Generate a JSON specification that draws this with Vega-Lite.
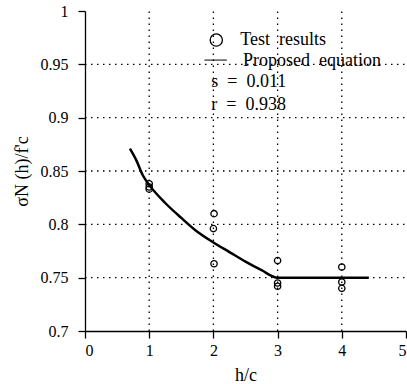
{
  "$schema": "https://vega.github.io/schema/vega-lite/v6.json",
  "width": 321,
  "height": 320,
  "autosize": {"type": "none"},
  "padding": {"left": 85, "top": 11, "right": 1, "bottom": 53},
  "background": "white",
  "config": {
    "view": {"stroke": null},
    "font": "Times New Roman, Liberation Serif, serif",
    "axis": {"grid": false, "domainColor": "black", "domainWidth": 1.3, "tickColor": "black", "tickSize": 7, "tickWidth": 1.3,
             "labelColor": "black", "titleFontWeight": "normal", "titleColor": "black"}
  },
  "data": {"values": [
    {"k": "gv", "x": 1, "y": 0.7, "y2": 1},
    {"k": "gv", "x": 2, "y": 0.7, "y2": 1},
    {"k": "gv", "x": 3, "y": 0.7, "y2": 1},
    {"k": "gv", "x": 4, "y": 0.7, "y2": 1},
    {"k": "gh", "x": 0, "x2": 5, "y": 0.75},
    {"k": "gh", "x": 0, "x2": 5, "y": 0.8},
    {"k": "gh", "x": 0, "x2": 5, "y": 0.85},
    {"k": "gh", "x": 0, "x2": 5, "y": 0.9},
    {"k": "gh", "x": 0, "x2": 5, "y": 0.95},
    {"k": "curve", "x": 0.7, "y": 0.871},
    {"k": "curve", "x": 0.8, "y": 0.86},
    {"k": "curve", "x": 0.9, "y": 0.846},
    {"k": "curve", "x": 1.0, "y": 0.837},
    {"k": "curve", "x": 1.25, "y": 0.82},
    {"k": "curve", "x": 1.5, "y": 0.806},
    {"k": "curve", "x": 1.75, "y": 0.793},
    {"k": "curve", "x": 2.0, "y": 0.783},
    {"k": "curve", "x": 2.25, "y": 0.774},
    {"k": "curve", "x": 2.5, "y": 0.765},
    {"k": "curve", "x": 2.75, "y": 0.757},
    {"k": "curve", "x": 3.0, "y": 0.75},
    {"k": "curve", "x": 4.42, "y": 0.75},
    {"k": "pt", "x": 1, "y": 0.838},
    {"k": "pt", "x": 1, "y": 0.835},
    {"k": "pt", "x": 1, "y": 0.833},
    {"k": "pt", "x": 2.01, "y": 0.81},
    {"k": "pt", "x": 2, "y": 0.796},
    {"k": "pt", "x": 2.01, "y": 0.763},
    {"k": "pt", "x": 3, "y": 0.766},
    {"k": "pt", "x": 3, "y": 0.745},
    {"k": "pt", "x": 3, "y": 0.742},
    {"k": "pt", "x": 4, "y": 0.76},
    {"k": "pt", "x": 4, "y": 0.746},
    {"k": "pt", "x": 4, "y": 0.74},
    {"k": "legsym", "x": 2.045, "y": 0.9728},
    {"k": "legline", "x": 1.86, "y": 0.954},
    {"k": "legline", "x": 2.21, "y": 0.954},
    {"k": "txt", "x": 2.418, "y": 0.9728, "t": "Test\u00a0 results"},
    {"k": "txt", "x": 2.46, "y": 0.9531, "t": "Proposed\u00a0 equation"},
    {"k": "txt", "x": 1.967, "y": 0.9337, "t": "s\u00a0 =\u00a0 0.011"},
    {"k": "txt", "x": 1.967, "y": 0.9119, "t": "r\u00a0 =\u00a0 0.938"}
  ]},
  "encoding": {
    "x": {"field": "x", "type": "quantitative",
          "scale": {"domain": [0, 5], "nice": false, "zero": false},
          "axis": {"values": [0, 1, 2, 3, 4, 5], "title": "h/c", "titlePadding": 8, "labelPadding": 4,
                   "labelFont": "Times New Roman, Liberation Serif, serif", "labelFontSize": 16, "titleFont": "Times New Roman, Liberation Serif, serif", "titleFontSize": 18}},
    "y": {"field": "y", "type": "quantitative",
          "scale": {"domain": [0.7, 1], "nice": false, "zero": false},
          "axis": {"values": [0.7, 0.75, 0.8, 0.85, 0.9, 0.95, 1], "title": "σN (h)/f'c", "titlePadding": 9, "labelPadding": 10,
                   "labelFont": "Times New Roman, Liberation Serif, serif", "labelFontSize": 16, "titleFont": "Times New Roman, Liberation Serif, serif", "titleFontSize": 18,
                   "labelExpr": "datum.value == 1 ? '1' : format(datum.value, '.2~f')"}}
  },
  "layer": [
    {"transform": [{"filter": "datum.k == 'gv'"}],
     "mark": {"type": "rule", "color": "black", "strokeDash": [1.5, 4.5], "strokeWidth": 1.3},
     "encoding": {"y2": {"field": "y2"}}},
    {"transform": [{"filter": "datum.k == 'gh'"}],
     "mark": {"type": "rule", "color": "black", "strokeDash": [1.5, 4.5], "strokeWidth": 1.3},
     "encoding": {"x2": {"field": "x2"}}},
    {"transform": [{"filter": "datum.k == 'curve'"}],
     "mark": {"type": "line", "color": "black", "strokeWidth": 2.5, "interpolate": "monotone"},
     "encoding": {"order": {"field": "x", "type": "quantitative"}}},
    {"transform": [{"filter": "datum.k == 'pt'"}],
     "mark": {"type": "point", "shape": "circle", "color": "black", "filled": false, "size": 40, "strokeWidth": 1.3, "opacity": 1}},
    {"transform": [{"filter": "datum.k == 'legsym'"}],
     "mark": {"type": "point", "shape": "circle", "color": "black", "filled": false, "size": 150, "strokeWidth": 1.3, "opacity": 1}},
    {"transform": [{"filter": "datum.k == 'legline'"}],
     "mark": {"type": "line", "color": "black", "strokeWidth": 1}},
    {"transform": [{"filter": "datum.k == 'txt'"}],
     "mark": {"type": "text", "align": "left", "baseline": "middle", "fontSize": 18, "font": "Times New Roman, Liberation Serif, serif", "color": "black"},
     "encoding": {"text": {"field": "t"}}}
  ]
}
